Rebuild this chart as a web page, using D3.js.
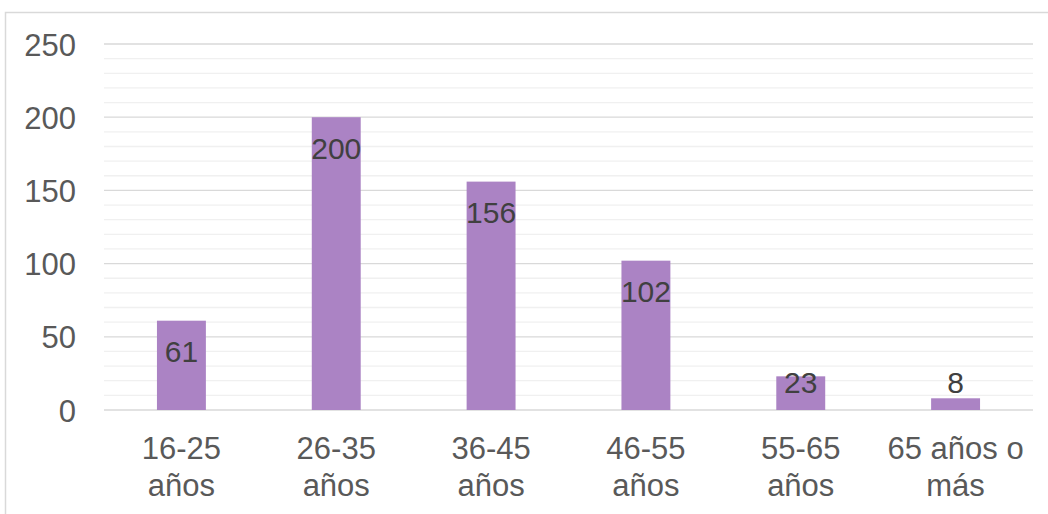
<!DOCTYPE html>
<html>
<head>
<meta charset="utf-8">
<script src="https://cdn.jsdelivr.net/npm/d3@7"></script>
<style>
  html, body { margin: 0; padding: 0; background: #fff; }
  svg { display: block; font-family: "Liberation Sans", Arial, sans-serif; }
</style>
</head>
<body>
<svg id="chart" width="1048" height="514"></svg>
<script>
// Age groups (two-line labels) and respondent counts
const categories = [
  ["16-25", "años"],
  ["26-35", "años"],
  ["36-45", "años"],
  ["46-55", "años"],
  ["55-65", "años"],
  ["65 años o", "más"]
];
const values = [61, 200, 156, 102, 23, 8];
const yTicks = [0, 50, 100, 150, 200, 250];
const yMinorTicks = d3.range(0, 251, 10);

const svg = d3.select("#chart");
const W = 1048, H = 514;

// Outer chart frame
svg.append("rect")
  .attr("x", 5.5).attr("y", 12.5)
  .attr("width", W + 10).attr("height", H + 10)
  .attr("fill", "#fff").attr("stroke", "#d9d9d9").attr("stroke-width", 1.5);

const plot = { left: 104, right: 1033, top: 44, bottom: 410 };
const keys = categories.map((c, i) => i);

const x = d3.scaleBand().domain(keys).range([plot.left, plot.right]).paddingInner(0.684).paddingOuter(0.342);
const y = d3.scaleLinear().domain([0, 250]).range([plot.bottom, plot.top]);

// Minor gridlines
svg.append("g").selectAll("line").data(yMinorTicks.filter(v => v % 50 !== 0)).join("line")
  .attr("x1", plot.left).attr("x2", plot.right)
  .attr("y1", d => y(d)).attr("y2", d => y(d))
  .attr("stroke", "#f0f0f0").attr("stroke-width", 1.3);

// Major gridlines
svg.append("g").selectAll("line").data(yTicks).join("line")
  .attr("x1", plot.left).attr("x2", plot.right)
  .attr("y1", d => y(d)).attr("y2", d => y(d))
  .attr("stroke", "#d9d9d9").attr("stroke-width", 1.3);

// Y axis tick labels
const yAxis = d3.axisLeft(y).tickValues(yTicks).tickSize(0).tickPadding(0);
const yg = svg.append("g").attr("transform", `translate(${plot.left - 28},0)`).call(yAxis);
yg.select(".domain").remove();
yg.selectAll("text")
  .attr("fill", "#595959").attr("font-size", 31)
  .attr("font-family", "'Liberation Sans', Arial, sans-serif")
  .attr("dy", "0.36em");

// Bars
svg.append("g").selectAll("rect").data(values).join("rect")
  .attr("x", (d, i) => x(i))
  .attr("width", x.bandwidth())
  .attr("y", d => y(d))
  .attr("height", d => y(0) - y(d))
  .attr("fill", "#ab83c4");

// Value labels, inside the end of each bar, kept clear of the baseline
svg.append("g").selectAll("text").data(values).join("text")
  .attr("x", (d, i) => x(i) + x.bandwidth() / 2)
  .attr("y", d => Math.min(y(d) + 31, y(0) - 28))
  .attr("dy", "0.36em")
  .attr("text-anchor", "middle")
  .attr("font-size", 30)
  .attr("fill", "#404040")
  .text(d => d);

// Category labels (two lines)
const xg = svg.append("g");
categories.forEach((lines, i) => {
  const t = xg.append("text")
    .attr("text-anchor", "middle")
    .attr("font-size", 31)
    .attr("fill", "#595959");
  lines.forEach((s, j) => {
    t.append("tspan")
      .attr("x", x(i) + x.bandwidth() / 2)
      .attr("y", 448 + j * 37)
      .attr("dy", "0.36em")
      .text(s);
  });
});
</script>
</body>
</html>
